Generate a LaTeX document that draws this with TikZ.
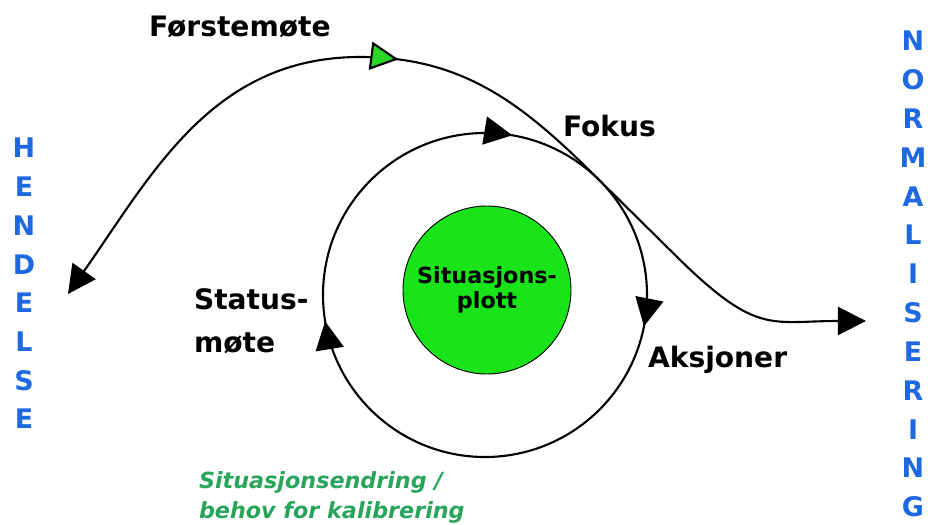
\documentclass[tikz,border=0pt]{standalone}
\usepackage{fontspec}
\setmainfont{DejaVu Sans}
\usepackage{tikz}
\usetikzlibrary{
	arrows.meta,
	calc,
	positioning,
	decorations.markings,
}
\definecolor{plotgreen}{RGB}{25,228,25}
\definecolor{tipgreen}{RGB}{40,215,40}
\definecolor{notegreen}{RGB}{40,165,90}
\definecolor{endblue}{RGB}{30,105,225}
\tikzset{stage label/.style={
	inner sep=0mm,
	align=left,
	font=\fontsize{24}{36.5}\selectfont\bfseries,
}}
\tikzset{note label/.style={
	inner sep=0mm,
	align=left,
	text=notegreen,
	font=\fontsize{19}{25.5}\selectfont\bfseries\itshape,
}}
\tikzset{end letter/.style={
	inner sep=0mm,
	anchor=base,
	text=endblue,
	font=\fontsize{23}{27}\selectfont\bfseries,
}}
\tikzset{plot node/.style={
	draw,
	circle,
	fill=plotgreen,
	line width=0.8pt,
	minimum size=5.04cm,
	align=center,
	font=\fontsize{19}{21}\selectfont\bfseries,
}}

\begin{document}
\begin{tikzpicture}[x=0.03cm, y=0.03cm, line width=1.8pt,
	>={Triangle[length=24pt,width=24pt]}]
\useasboundingbox (0,0) rectangle (928,524);

\node[plot node] (plot) at (487,234) {Situasjons-\\plott};
\node[circle, inner sep=0mm, outer sep=0mm, minimum size=9.72cm] (loop) at (485,229) {};

% the meeting loop
\draw[postaction=decorate, decoration={markings,
	mark=at position 0.223 with {\arrowreversed{>}},
	mark=at position 0.526 with {\arrowreversed{>}},
	mark=at position 0.969 with {\arrowreversed{>}},
}] (loop.center) circle[radius=162];

% event to normal state
\coordinate (hend) at (68,230);
\coordinate (peak) at (360,467);
\coordinate (bend) at (670,274);
\coordinate (norm) at (866,203);
\draw[<->, postaction=decorate, decoration={markings,
	mark=at position 0.437 with {\arrow{Triangle[length=24pt,width=24pt,fill=tipgreen]}},
}]
(hend) to[out=55,in=180]
(peak) to[out=0,in=135]
(loop.45) --
(bend) to[out=-45,in=180,out looseness=1.5,in looseness=1.2]
(norm)
;

\node[stage label, anchor=base west] (first) at (148,487) {Førstemøte};
\node[stage label, anchor=base west] (focus) at (562,387) {Fokus};
\node[stage label, anchor=west] (status) at (193,203) {Status-\\møte};
\node[stage label, anchor=base west] (action) at (647,157) {Aksjoner};
\node[note label, anchor=north west] (change) at (198,53) {Situasjonsendring /\\behov for kalibrering};

\foreach[count=\i] \c in {H,E,N,D,E,L,S,E}{
	\node[end letter] (event\i) at (24,366-38.7*\i+38.7) {\c};
}
\foreach[count=\i] \c in {N,O,R,M,A,L,I,S,E,R,I,N,G}{
	\node[end letter] (normal\i) at (913,473-38.8*\i+38.8) {\c};
}

\end{tikzpicture}
\end{document}
